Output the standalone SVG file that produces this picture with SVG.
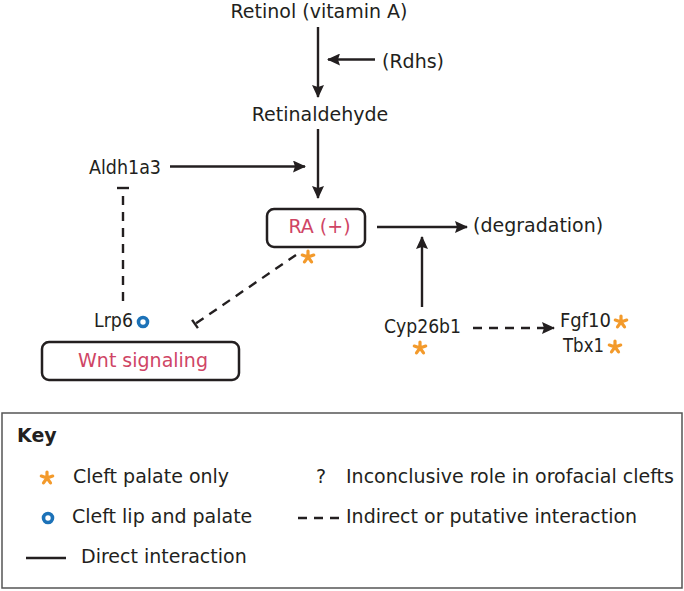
<svg xmlns="http://www.w3.org/2000/svg" width="684" height="591" viewBox="0 0 684 591">
<style>
text{font-family:"DejaVu Sans","Liberation Sans",sans-serif;font-size:19px;fill:#231f20}
.red{fill:#cf4565}
.mid{text-anchor:middle}
.end{text-anchor:end}
.ln{stroke:#231f20;stroke-width:2.4;fill:none}
.dash{stroke-dasharray:9 7}
.box{fill:#fff;stroke:#231f20;stroke-width:2.5}
.ring{fill:none;stroke:#1c72b8;stroke-width:3.6}
.ast{stroke:#f39a2b;stroke-width:3.2;stroke-linecap:round;fill:none}
</style>
<defs>
<marker id="ah" markerUnits="userSpaceOnUse" markerWidth="13" markerHeight="12" viewBox="0 0 13 12" refX="12" refY="6" orient="auto">
<path d="M0,0 L13,6 L0,12 L2,6 Z" fill="#231f20"/>
</marker>
<g id="star">
<path class="ast" d="M0,-6 L0,0 M5.7,-1.9 L0,0 M-5.7,-1.9 L0,0 M3.5,4.9 L0,0 M-3.5,4.9 L0,0"/>
</g>
</defs>

<g id="connectors">
<line class="ln" x1="318" y1="27" x2="318" y2="97" marker-end="url(#ah)"/>
<line class="ln" x1="375" y1="59.5" x2="328" y2="59.5" marker-end="url(#ah)"/>
<line class="ln" x1="318" y1="129" x2="318" y2="198" marker-end="url(#ah)"/>
<line class="ln" x1="170" y1="166.5" x2="305" y2="166.5" marker-end="url(#ah)"/>
<line class="ln" x1="377" y1="227" x2="467" y2="227" marker-end="url(#ah)"/>
<line class="ln" x1="422" y1="307" x2="422" y2="237" marker-end="url(#ah)"/>
<line class="ln dash" x1="473" y1="328" x2="554" y2="328" marker-end="url(#ah)"/>
<line class="ln" x1="117" y1="188" x2="129" y2="188"/>
<line class="ln dash" x1="123" y1="196" x2="123" y2="305"/>
<line class="ln dash" x1="296" y1="255" x2="195" y2="324"/>
<line class="ln" x1="197.9" y1="328.1" x2="192.1" y2="319.9"/>
</g>

<g id="retinol"><text class="mid" x="319" y="18">Retinol (vitamin A)</text></g>
<g id="rdhs"><text x="382" y="68">(Rdhs)</text></g>
<g id="retinaldehyde"><text class="mid" x="320" y="121">Retinaldehyde</text></g>
<g id="aldh1a3"><text x="89" y="174" textLength="72" lengthAdjust="spacingAndGlyphs">Aldh1a3</text></g>
<g id="ra">
<rect class="box" x="267" y="209" width="98" height="38" rx="7"/>
<text class="mid red" x="319.5" y="233">RA (+)</text>
<use href="#star" x="308" y="257"/>
</g>
<g id="degradation"><text x="473" y="232">(degradation)</text></g>
<g id="lrp6">
<text x="94" y="327" textLength="39" lengthAdjust="spacingAndGlyphs">Lrp6</text>
<circle class="ring" cx="143" cy="322" r="4.5"/>
</g>
<g id="wnt">
<rect class="box" x="42" y="342" width="197" height="38" rx="7"/>
<text class="mid red" x="143" y="367">Wnt signaling</text>
</g>
<g id="cyp26b1">
<text x="384" y="333" textLength="77" lengthAdjust="spacingAndGlyphs">Cyp26b1</text>
<use href="#star" x="420" y="348"/>
</g>
<g id="fgf10">
<text x="560" y="327" textLength="51" lengthAdjust="spacingAndGlyphs">Fgf10</text>
<use href="#star" x="621" y="322"/>
</g>
<g id="tbx1">
<text x="563" y="352" textLength="41" lengthAdjust="spacingAndGlyphs">Tbx1</text>
<use href="#star" x="615" y="347"/>
</g>

<g id="key">
<rect x="2" y="413" width="680" height="175" fill="#fff" stroke="#555" stroke-width="1.5"/>
<text x="17" y="442" font-weight="bold">Key</text>
<use href="#star" x="47" y="478"/>
<text x="73" y="483">Cleft palate only</text>
<circle class="ring" cx="48" cy="518" r="4.5"/>
<text x="72" y="523">Cleft lip and palate</text>
<line class="ln" x1="26" y1="558" x2="66" y2="558"/>
<text x="81" y="563">Direct interaction</text>
<text x="316" y="483">?</text>
<text x="346" y="483">Inconclusive role in orofacial clefts</text>
<line class="ln dash" x1="298" y1="518" x2="341" y2="518"/>
<text x="346" y="523">Indirect or putative interaction</text>
</g>
</svg>
